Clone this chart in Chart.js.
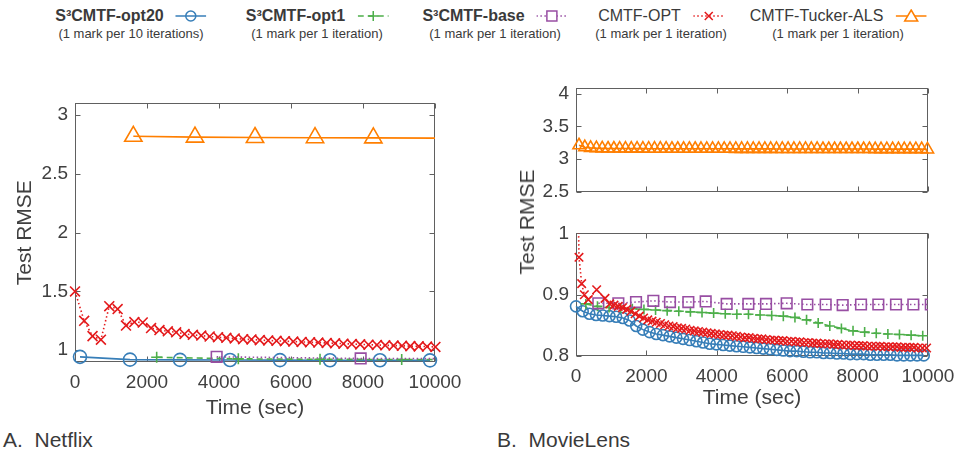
<!DOCTYPE html>
<html>
<head>
<meta charset="utf-8">
<script src="https://cdn.jsdelivr.net/npm/chart.js@4.4.1/dist/chart.umd.min.js"></script>
<style>
body { margin: 0; background: #fff; font-family: "Liberation Sans", Arial, sans-serif; color: #3a3a3a; }
#wrap { position: relative; width: 968px; height: 455px; overflow: hidden; }
canvas { position: absolute; }
.leg { position: absolute; top: 6px; transform: translateX(-50%); text-align: center; white-space: nowrap; }
.leg .row { height: 18px; line-height: 18px; }
.leg .name { font-size: 16px; vertical-align: middle; }
.leg svg { vertical-align: middle; margin-left: 12px; }
.leg .sub { font-size: 13px; line-height: 15px; margin-top: 2px; }
.lbl { position: absolute; font-size: 21px; line-height: 24px; white-space: nowrap; }
#mlTitle { left: 527px; top: 222px; transform: translate(-50%, -50%) rotate(-90deg); }
</style>
</head>
<body>
<div id="wrap">
  <div id="legend"></div>
  <canvas id="netflix" width="480" height="340" style="left:0px;top:85px"></canvas>
  <canvas id="mlTop" width="484" height="140" style="left:484px;top:70px"></canvas>
  <canvas id="mlBottom" width="484" height="200" style="left:484px;top:215px"></canvas>
  <div class="lbl" id="mlTitle">Test RMSE</div>
  <div class="lbl" style="left:3px;top:428px">A.&nbsp; Netflix</div>
  <div class="lbl" style="left:497px;top:428px">B.&nbsp; MovieLens</div>
</div>
<script>
// axis ticks
const xTicks = [0, 2000, 4000, 6000, 8000, 10000];
const nfYTicks = [1, 1.5, 2, 2.5, 3];
const mlTopTicks = [2.5, 3, 3.5, 4];
const mlBottomTicks = [0.8, 0.9, 1];

// legend
const seriesNames = ['S³CMTF-opt20', 'S³CMTF-opt1', 'S³CMTF-base', 'CMTF-OPT', 'CMTF-Tucker-ALS'];
const markNotes = ['(1 mark per 10 iterations)', '(1 mark per 1 iteration)', '(1 mark per 1 iteration)',
  '(1 mark per 1 iteration)', '(1 mark per 1 iteration)'];

// A. Netflix (time in sec, test RMSE)
const nfOpt20Time = [139, 1528, 2917, 4306, 5694, 7083, 8472, 9861];
const nfOpt20Rmse = [0.944, 0.920, 0.918, 0.917, 0.916, 0.915, 0.915, 0.914];
const nfOpt1Time = [2269, 4537, 6806, 9075, 11344];
const nfOpt1Rmse = [0.940, 0.927, 0.923, 0.921, 0.920];
const nfBaseTime = [3935, 7935, 11935];
const nfBaseRmse = [0.944, 0.930, 0.928];
const nfOptTime = [0, 255, 487, 720, 952, 1184, 1417, 1649, 1881, 2113, 2346, 2578, 2810, 3043, 3275,
  3507, 3740, 3972, 4204, 4436, 4669, 4901, 5133, 5366, 5598, 5830, 6063, 6295, 6527, 6759, 6992,
  7224, 7456, 7689, 7921, 8153, 8386, 8618, 8850, 9082, 9315, 9547, 9779, 10011];
const nfOptRmse = [1.50, 1.25, 1.12, 1.09, 1.375, 1.35, 1.21, 1.24, 1.236, 1.189, 1.172, 1.161, 1.153,
  1.139, 1.131, 1.125, 1.117, 1.111, 1.106, 1.100, 1.094, 1.092, 1.086, 1.083, 1.080, 1.077, 1.074,
  1.071, 1.068, 1.065, 1.062, 1.059, 1.056, 1.053, 1.050, 1.047, 1.045, 1.042, 1.040, 1.038, 1.035,
  1.033, 1.031, 1.028];
const nfTuckerTime = [1620, 3333, 5000, 6667, 8287, 11600];
const nfTuckerRmse = [2.820, 2.813, 2.810, 2.808, 2.807, 2.803];

// B. MovieLens
const mlOpt20Time = [0, 190, 380, 570, 760, 950, 1140, 1330, 1520, 1710, 1900, 2090, 2280, 2470, 2660,
  2850, 3040, 3230, 3420, 3610, 3800, 3990, 4180, 4370, 4560, 4750, 4940, 5130, 5320, 5510, 5700,
  5890, 6080, 6270, 6460, 6650, 6840, 7030, 7220, 7410, 7600, 7790, 7980, 8170, 8360, 8550, 8740,
  8930, 9120, 9310, 9500, 9690, 9880];
const mlOpt20Rmse = [0.881, 0.873, 0.869, 0.867, 0.866, 0.865, 0.864, 0.862, 0.858, 0.849, 0.843,
  0.839, 0.836, 0.834, 0.832, 0.830, 0.828, 0.826, 0.824, 0.822, 0.820, 0.819, 0.818, 0.817, 0.816,
  0.815, 0.814, 0.813, 0.812, 0.811, 0.810, 0.809, 0.808, 0.808, 0.807, 0.806, 0.806, 0.805, 0.805,
  0.804, 0.804, 0.803, 0.803, 0.803, 0.802, 0.802, 0.802, 0.802, 0.801, 0.801, 0.801, 0.801, 0.801];
const mlOpt1Time = [280, 610, 940, 1270, 1600, 1930, 2260, 2590, 2920, 3250, 3580, 3910, 4240, 4570,
  4900, 5230, 5560, 5890, 6220, 6550, 6880, 7210, 7540, 7870, 8200, 8530, 8860, 9190, 9520, 9850];
const mlOpt1Rmse = [0.885, 0.881, 0.879, 0.878, 0.877, 0.876, 0.875, 0.874, 0.873, 0.872, 0.871, 0.870,
  0.869, 0.868, 0.868, 0.867, 0.866, 0.865, 0.863, 0.859, 0.854, 0.849, 0.845, 0.841, 0.839, 0.837,
  0.836, 0.835, 0.834, 0.833];
const mlBaseTime = [634, 1203, 1705, 2197, 2670, 3191, 3684, 4280, 4896, 5398, 5985, 6572, 7093, 7576,
  8097, 8589, 9091, 9583, 10080];
const mlBaseRmse = [0.886, 0.886, 0.888, 0.890, 0.888, 0.888, 0.889, 0.885, 0.885, 0.885, 0.886, 0.884,
  0.884, 0.883, 0.884, 0.884, 0.884, 0.884, 0.884];
const mlOptTime = [0, 85, 161, 237, 350, 587, 824, 960, 1080, 1200, 1320, 1440, 1560, 1680, 1800, 1920,
  2040, 2160, 2280, 2400, 2520, 2640, 2760, 2880, 3000, 3120, 3240, 3360, 3480, 3600, 3720, 3840,
  3960, 4080, 4200, 4320, 4440, 4560, 4680, 4800, 4920, 5040, 5160, 5280, 5400, 5520, 5640, 5760,
  5880, 6000, 6120, 6240, 6360, 6480, 6600, 6720, 6840, 6960, 7080, 7200, 7320, 7440, 7560, 7680,
  7800, 7920, 8040, 8160, 8280, 8400, 8520, 8640, 8760, 8880, 9000, 9120, 9240, 9360, 9480, 9600,
  9720, 9840, 9960];
const mlOptRmse = [1.25, 0.961, 0.918, 0.900, 0.892, 0.908, 0.894, 0.885, 0.883, 0.881, 0.879, 0.876,
  0.873, 0.869, 0.865, 0.862, 0.859, 0.857, 0.855, 0.853, 0.851, 0.849, 0.848, 0.846, 0.845, 0.844,
  0.842, 0.841, 0.840, 0.839, 0.838, 0.837, 0.836, 0.835, 0.834, 0.834, 0.833, 0.832, 0.831, 0.830,
  0.830, 0.829, 0.828, 0.828, 0.827, 0.826, 0.826, 0.825, 0.825, 0.824, 0.824, 0.823, 0.823, 0.822,
  0.822, 0.821, 0.821, 0.820, 0.820, 0.820, 0.819, 0.819, 0.818, 0.818, 0.818, 0.817, 0.817, 0.817,
  0.816, 0.816, 0.816, 0.816, 0.815, 0.815, 0.815, 0.815, 0.814, 0.814, 0.814, 0.814, 0.813, 0.813,
  0.813];
const mlTuckerTime = [85, 250, 415, 580, 745, 910, 1075, 1240, 1405, 1570, 1735, 1900, 2065, 2230,
  2395, 2560, 2725, 2890, 3055, 3220, 3385, 3550, 3715, 3880, 4045, 4210, 4375, 4540, 4705, 4870,
  5035, 5200, 5365, 5530, 5695, 5860, 6025, 6190, 6355, 6520, 6685, 6850, 7015, 7180, 7345, 7510,
  7675, 7840, 8005, 8170, 8335, 8500, 8665, 8830, 8995, 9160, 9325, 9490, 9655, 9820, 9985];
const mlTuckerRmse = [3.21, 3.18, 3.17, 3.165, 3.162, 3.160, 3.160, 3.159, 3.159, 3.158,
  3.158, 3.158, 3.157, 3.157, 3.157, 3.157, 3.156, 3.156, 3.156, 3.156,
  3.156, 3.155, 3.155, 3.155, 3.155, 3.155, 3.155, 3.154, 3.154, 3.154,
  3.154, 3.154, 3.154, 3.154, 3.153, 3.153, 3.153, 3.153, 3.153, 3.153,
  3.153, 3.153, 3.152, 3.152, 3.152, 3.152, 3.152, 3.152, 3.152, 3.152,
  3.152, 3.151, 3.151, 3.151, 3.151, 3.151, 3.151, 3.151, 3.151, 3.151,
  3.145];

// look of each series (same order as seriesNames)
const colors = ['#377eb8', '#4daf4a', '#984ea3', '#e41a1c', '#ff7f00'];
const marks = ['circle', 'cross', 'rect', 'crossRot', 'triangle'];
const dashes = [[], [6, 4], [1.5, 2.5], [1.5, 2.5], []];
const nfRadius = [6.5, 5.5, 7.5, 7, 10];
const mlRadius = [5.5, 5, 7.5, 6, 7];
const lineW = 1.6;
const textColor = '#404040';
const tickFont = { family: '"Liberation Sans", Arial, sans-serif', size: 19 };

// legend in html (two lines per entry)
const legendX = [131, 317, 495, 661, 838];
const legendHtml = seriesNames.map((name, i) => {
  const c = colors[i];
  let mk = '';
  if (marks[i] === 'circle') mk = `<circle cx="15.5" cy="7" r="5" fill="none" stroke="${c}" stroke-width="1.5"/>`;
  if (marks[i] === 'cross') mk = `<path d="M15.5 2V12M10.5 7H20.5" stroke="${c}" stroke-width="1.5"/>`;
  if (marks[i] === 'rect') mk = `<rect x="10.5" y="2" width="10" height="10" fill="#fff" stroke="${c}" stroke-width="1.5"/>`;
  if (marks[i] === 'crossRot') mk = `<path d="M11.5 3L19.5 11M19.5 3L11.5 11" stroke="${c}" stroke-width="1.5"/>`;
  if (marks[i] === 'triangle') mk = `<path d="M15.5 1L22 12H9Z" fill="#fff" stroke="${c}" stroke-width="1.5"/>`;
  const dash = dashes[i].length ? `stroke-dasharray="${dashes[i].join(' ')}"` : '';
  const bold = i < 3 ? 'font-weight:bold' : '';
  return `<div class="leg" style="left:${legendX[i]}px"><div class="row"><span class="name" style="${bold}">${name}</span>` +
    `<svg width="31" height="14"><line x1="0" y1="7" x2="31" y2="7" stroke="${c}" stroke-width="1.5" ${dash}/>${mk}</svg></div>` +
    `<div class="sub">${markNotes[i]}</div></div>`;
}).join('');
document.getElementById('legend').innerHTML = legendHtml;

// box around plot with inward ticks, like the original figure
const boxTicks = {
  id: 'boxTicks',
  beforeDatasetsDraw(chart) {
    const { ctx, chartArea: a, scales } = chart;
    const L = Math.round(a.left) + 0.5, R = Math.round(a.right) - 0.5;
    const T = Math.round(a.top) + 0.5, B = Math.round(a.bottom) - 0.5;
    ctx.save();
    ctx.strokeStyle = '#606060';
    ctx.lineWidth = 1;
    ctx.strokeRect(L, T, R - L, B - T);
    ctx.beginPath();
    scales.x.ticks.forEach(t => {
      const px = Math.round(scales.x.getPixelForValue(t.value)) + 0.5;
      ctx.moveTo(px, B); ctx.lineTo(px, B - 5);
      ctx.moveTo(px, T); ctx.lineTo(px, T + 5);
    });
    scales.y.ticks.forEach(t => {
      const py = Math.round(scales.y.getPixelForValue(t.value)) + 0.5;
      ctx.moveTo(L, py); ctx.lineTo(L + 5, py);
      ctx.moveTo(R, py); ctx.lineTo(R - 5, py);
    });
    ctx.stroke();
    ctx.restore();
  }
};

function toPoints(times, values) {
  return times.map((t, i) => ({ x: t, y: values[i] }));
}

function makeDatasets(series, radius) {
  return series.map((s, i) => ({
    data: toPoints(s[0], s[1]),
    borderColor: colors[i],
    borderWidth: lineW,
    borderDash: dashes[i],
    pointStyle: marks[i],
    pointRadius: radius[i],
    pointBorderWidth: lineW,
    pointBorderColor: colors[i],
    pointBackgroundColor: 'rgba(0,0,0,0)',
    tension: 0,
    order: 4 - i,
    clip: s[2]
  }));
}

function makeChart(id, datasets, o) {
  return new Chart(document.getElementById(id), {
    type: 'line',
    data: { datasets },
    options: {
      responsive: false,
      animation: false,
      layout: { padding: { left: 0, top: o.padTop, right: o.padRight, bottom: 0 } },
      plugins: { legend: { display: false }, tooltip: { enabled: false } },
      scales: {
        x: {
          type: 'linear', min: 0, max: 10000,
          afterBuildTicks: s => { s.ticks = xTicks.map(v => ({ value: v })); },
          afterFit: s => { s.height = o.xHeight; },
          grid: { display: false, drawTicks: false },
          border: { display: false },
          ticks: { display: o.xLabels, font: tickFont, color: textColor, padding: 9, maxRotation: 0,
            callback: v => String(v) },
          title: { display: o.xLabels, text: 'Time (sec)', color: textColor,
            font: { family: tickFont.family, size: 21 }, padding: { top: 0, bottom: 4 } }
        },
        y: {
          type: 'linear', min: o.yMin, max: o.yMax,
          afterBuildTicks: s => { s.ticks = o.yTicks.map(v => ({ value: v })); },
          afterFit: s => { s.width = o.yWidth; },
          grid: { display: false, drawTicks: false },
          border: { display: false },
          ticks: { font: tickFont, color: textColor, padding: 7, callback: v => String(v) },
          title: { display: !!o.yTitle, text: o.yTitle, color: textColor,
            font: { family: tickFont.family, size: 21 }, padding: { top: 13, bottom: 0 } }
        }
      }
    },
    plugins: [boxTicks]
  });
}

const edge = { left: 10, top: 10, right: 10, bottom: 10 };
const edgeR0 = { left: 10, top: 10, right: 0, bottom: 10 };
const edgeT0 = { left: 10, top: 0, right: 10, bottom: 10 };

const nfSeries = [
  [nfOpt20Time, nfOpt20Rmse, edge],
  [nfOpt1Time, nfOpt1Rmse, edgeR0],
  [nfBaseTime, nfBaseRmse, edgeR0],
  [nfOptTime, nfOptRmse, edge],
  [nfTuckerTime, nfTuckerRmse, edgeR0]
];
const mlSeries = [
  [mlOpt20Time, mlOpt20Rmse, edge],
  [mlOpt1Time, mlOpt1Rmse, edge],
  [mlBaseTime, mlBaseRmse, edgeR0],
  [mlOptTime, mlOptRmse, edgeT0],
  [mlTuckerTime, mlTuckerRmse, edge]
];

makeChart('netflix', makeDatasets(nfSeries, nfRadius), {
  padTop: 12, padRight: 45, xHeight: 63, yWidth: 75, xLabels: true,
  yMin: 0.9, yMax: 3.1, yTicks: nfYTicks, yTitle: 'Test RMSE'
});
makeChart('mlTop', makeDatasets(mlSeries, mlRadius), {
  padTop: 13, padRight: 40, xHeight: 9, yWidth: 92, xLabels: false,
  yMin: 2.5, yMax: 4.08, yTicks: mlTopTicks, yTitle: ''
});
makeChart('mlBottom', makeDatasets(mlSeries, mlRadius), {
  padTop: 15, padRight: 40, xHeight: 59, yWidth: 92, xLabels: true,
  yMin: 0.8, yMax: 1.0, yTicks: mlBottomTicks, yTitle: ''
});
</script>
</body>
</html>
